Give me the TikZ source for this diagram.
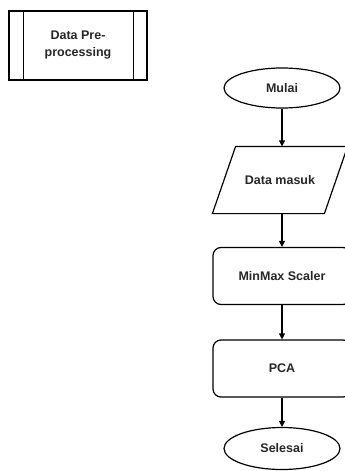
\documentclass[tikz,border=0pt]{standalone}
\usepackage{fontspec}
\setmainfont{Liberation Sans}
\usetikzlibrary{shapes.geometric,arrows.meta,calc}
\tikzset{
  base/.style={line width=1.2pt, draw=black, font=\fontsize{12.5}{17}\selectfont\bfseries, text=black!85, align=center, inner sep=0pt},
  term/.style={base, ellipse, minimum width=116pt, minimum height=40pt},
  procbox/.style={base, rectangle, rounded corners=8pt, minimum width=138pt, minimum height=57pt},
  iobox/.style={base, draw=none, minimum width=134pt, minimum height=66pt},
  flow/.style={line width=1.2pt, -{Triangle[width=6pt,length=6pt]}}
}
\begin{document}
\begin{tikzpicture}[x=1pt,y=-1pt]
\useasboundingbox (0,0) rectangle (345,471);
\clip (0,0) rectangle (345,471);
\fill[white] (0,0) rectangle (345,471);
% predefined process
\node[base, rectangle, minimum width=138pt, minimum height=69pt] (pp) at (78,45.5) {Data Pre-\\processing};
\draw[line width=1.2pt] ($(pp.north west)+(15,0)$) -- ($(pp.south west)+(15,0)$);
\draw[line width=1.2pt] ($(pp.north east)+(-14,0)$) -- ($(pp.south east)+(-14,0)$);
% flow
\node[term] (start) at (282,88) {Mulai};
\node[iobox] (in) at (280,180) {Data masuk};
\draw[line width=1.2pt] (in.south west) -- ++(112,0) -- (in.north east) -- ++(-112,0) -- cycle;
\node[procbox] (mm) at (282,276) {MinMax Scaler};
\node[procbox] (pca) at (282,368.5) {PCA};
\node[term, minimum height=42pt] (end) at (282,448.5) {Selesai};
\draw[flow] (start.south -| 282,0) -- (in.north -| 282,0);
\draw[flow] (in.south -| 282,0) -- (mm.north -| 282,0);
\draw[flow] (mm.south -| 282,0) -- (pca.north -| 282,0);
\draw[flow] (pca.south -| 282,0) -- (end.north -| 282,0);
\end{tikzpicture}
\end{document}
